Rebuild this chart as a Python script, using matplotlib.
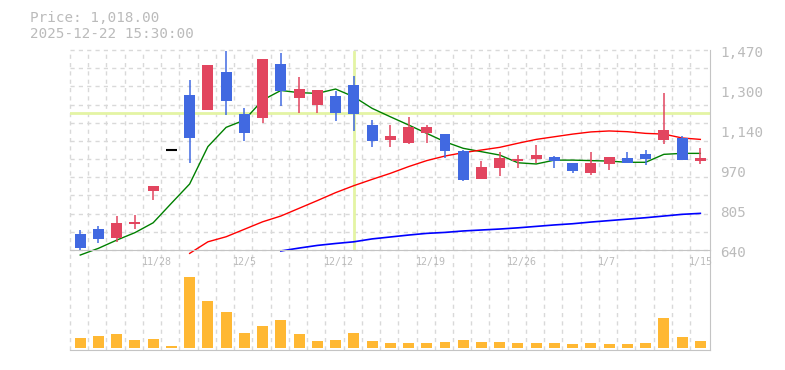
import numpy as np
import matplotlib
matplotlib.use("Agg")
import matplotlib.pyplot as plt
import matplotlib.transforms as mtransforms

# --- DATA ---
dates = ["11/21", "11/25", "11/26", "11/27", "11/28",
         "12/1", "12/2", "12/3", "12/4", "12/5",
         "12/8", "12/9", "12/10", "12/11", "12/12",
         "12/15", "12/16", "12/17", "12/18", "12/19",
         "12/22", "12/23", "12/24", "12/25", "12/26",
         "12/29", "12/30", "1/5", "1/6", "1/7",
         "1/8", "1/9", "1/13", "1/14", "1/15"]
opens = [706, 727, 691, 748, 886, 1055, 1283, 1221, 1379, 1204,
         1189, 1412, 1272, 1243, 1279, 1326, 1159, 1098, 1085, 1127,
         1121, 1051, 936, 982, 1009, 1018, 1027, 1001, 961, 998,
         1022, 1038, 1098, 1106, 1011]
highs = [723, 740, 782, 785, 906, 1055, 1346, 1408, 1466, 1229,
         1433, 1456, 1358, 1304, 1300, 1364, 1180, 1159, 1192, 1159,
         1121, 1055, 1009, 1046, 1034, 1076, 1030, 1001, 1047, 1026,
         1047, 1055, 1293, 1113, 1065]
lows = [640, 670, 674, 727, 848, 1055, 1002, 1221, 1200, 1094,
        1168, 1239, 1210, 1210, 1177, 1135, 1069, 1069, 1080, 1085,
        1020, 926, 936, 948, 982, 1002, 982, 961, 952, 973,
        1002, 994, 1081, 1015, 998]
closes = [650, 686, 752, 757, 906, 1055, 1106, 1408, 1260, 1127,
          1433, 1301, 1308, 1304, 1210, 1204, 1094, 1113, 1149, 1150,
          1052, 930, 986, 1022, 1019, 1034, 1011, 969, 1001, 1026,
          1002, 1019, 1138, 1015, 1020]
volumes = [97, 117, 137, 77, 87, 17, 710, 467, 357, 147,
           217, 277, 137, 67, 77, 147, 67, 47, 47, 47,
           57, 77, 57, 57, 47, 47, 47, 37, 47, 37,
           37, 47, 297, 107, 67]

nan = np.nan
ma_short = [619, 647, 681, 712, 753, 834, 914, 1069, 1149, 1179,
            1262, 1302, 1293, 1290, 1308, 1276, 1228, 1193, 1159, 1124,
            1089, 1062, 1048, 1034, 1002, 997, 1013, 1013, 1011, 1009,
            1004, 1004, 1037, 1041, 1041]
ma_mid = [nan, nan, nan, nan, nan, nan, 626, 674, 695, 726,
          757, 781, 813, 845, 878, 907, 933, 958, 986, 1011,
          1030, 1044, 1055, 1066, 1083, 1099, 1110, 1121, 1130, 1134,
          1131, 1124, 1121, 1105, 1099]
ma_long = [nan, nan, nan, nan, nan, nan, nan, nan, nan, nan,
           nan, 636, 648, 659, 667, 674, 686, 694, 702, 709,
           713, 719, 723, 727, 732, 738, 744, 749, 756, 762,
           768, 774, 781, 788, 792]

date_ticks = ["11/28", "12/5", "12/12", "12/19", "12/26", "1/7", "1/15"]
price_ticks = [640, 806, 972, 1138, 1304, 1470]
price_labels = ["640", "805", "970", "1,140", "1,300", "1,470"]
cursor_date = "12/15"
cursor_price = 1207

UP = "#e2455f"
DOWN = "#4169e1"
GRID = "#d9d9d9"
EDGE = "#c4c4c4"
TXT = "#bbbbbb"
MONO = "DejaVu Sans Mono"

x = np.arange(len(dates))
gx = x - 0.56

fig = plt.figure(figsize=(7.85, 3.70), dpi=100)
axv = fig.add_axes([70 / 785, 20 / 370, 640 / 785, 100 / 370])
ax = fig.add_axes([70 / 785, 120 / 370, 640 / 785, 200 / 370])
axv.patch.set_visible(False)
ax.patch.set_visible(False)

for a in (ax, axv):
    a.set_xlim(-0.56, 34.53)
    a.set_xticks([])
    a.set_yticks([])
    a.spines["top"].set_visible(False)
    a.spines["left"].set_visible(False)
    a.spines["right"].set_color(EDGE)
    a.spines["bottom"].set_color(EDGE)
    for g in gx:
        a.axvline(g, color=GRID, lw=1, ls=(0, (3, 3)), zorder=0, clip_on=False)

ax.set_ylim(640, 1470)
for h in np.linspace(640, 1470, 12):
    ax.axhline(h, color=GRID, lw=1, ls=(0, (3, 3)), zorder=0, clip_on=False)

# crosshair
ax.axhline(cursor_price, color="#e4f4a4", lw=2.0, zorder=1)
ax.axvline(dates.index(cursor_date), ymin=0.005, ymax=0.99, color="#e4f4a4", lw=2.0, zorder=1)

# moving averages (behind candles)
ax.plot(x, ma_short, color="#008000", lw=1.0, zorder=2, clip_on=False)
ax.plot(x, ma_mid, color="#ff0000", lw=1.0, zorder=2, clip_on=False)
ax.plot(x, ma_long, color="#0000ff", lw=1.2, zorder=2, clip_on=False)

# candles
w = 0.6
for i in x:
    o, h, l, c = opens[i], highs[i], lows[i], closes[i]
    if c > o:
        col = UP
    elif c < o:
        col = DOWN
    else:
        col = "black"
    ax.vlines(i, l, h, color=col, lw=1.1, zorder=3)
    if c == o:
        ax.hlines(c, i - w / 2, i + w / 2, color=col, lw=1.5, zorder=3)
    else:
        ax.bar(i, abs(c - o), bottom=min(o, c), width=w, color=col, zorder=3)

# price labels on the right
off = mtransforms.offset_copy(ax.get_yaxis_transform(), fig=fig, x=10, y=-3, units="dots")
for v, s in zip(price_ticks, price_labels):
    ax.text(1.0, v, s, transform=off, ha="left", va="center",
            family=MONO, fontsize=10.3, color=TXT)

# date labels
dtr = mtransforms.blended_transform_factory(ax.transData, ax.transAxes)
for d in date_ticks:
    ax.text(dates.index(d) - 0.62, -0.06, d, transform=dtr, ha="left", va="center",
            family=MONO, fontsize=7.2, color=TXT)

# volume
axv.set_ylim(-23, 977)
axv.bar(x, volumes, width=w, color="#ffb833", zorder=2)

fig.text(30 / 785, 1 - 17.5 / 370, "Price: 1,018.00", family=MONO, fontsize=10.3,
         color=TXT, ha="left", va="center")
fig.text(30 / 785, 1 - 33.5 / 370, "2025-12-22 15:30:00", family=MONO, fontsize=10.3,
         color=TXT, ha="left", va="center")

fig.savefig("out.png", dpi=100)
